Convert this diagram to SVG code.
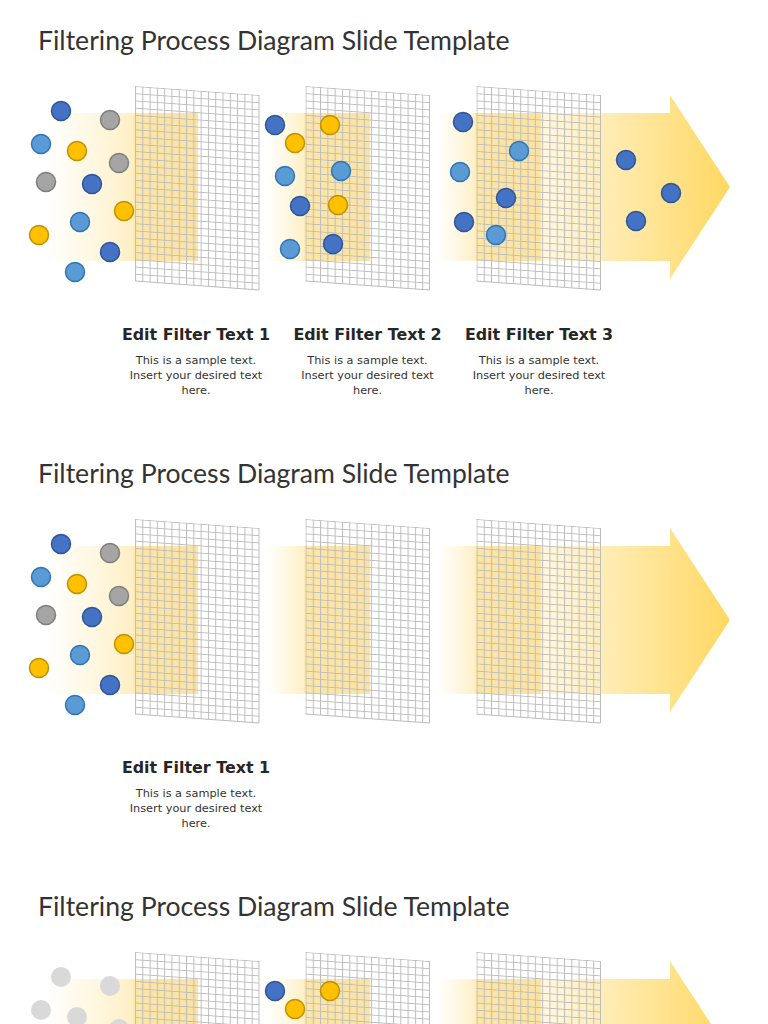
<svg xmlns="http://www.w3.org/2000/svg" width="768" height="1024" viewBox="0 0 768 1024">
<style>
.title{font-family:Lato,"Open Sans","Liberation Sans",sans-serif;font-size:26.6px;fill:#333333}
.head{font-family:"DejaVu Sans","Liberation Sans",sans-serif;font-size:15.9px;font-weight:bold;fill:#262626;text-anchor:middle}
.body{font-family:"DejaVu Sans","Liberation Sans",sans-serif;font-size:11.3px;fill:#333333;text-anchor:middle}
.db{fill:#4472C4;stroke:#2F5597;stroke-width:1.5}
.lb{fill:#5B9BD5;stroke:#2E75B6;stroke-width:1.5}
.yl{fill:#FFC000;stroke:#BF9000;stroke-width:1.5}
.gr{fill:#A5A5A5;stroke:#7F7F7F;stroke-width:1.5}
.fd{fill:#D9D9D9}
.gline{fill:none;stroke:#BDBDBD;stroke-width:1}
</style>
<defs>
<linearGradient id="band1G" x1="0" y1="0" x2="1" y2="0">
<stop offset="0" stop-color="#FFF2CC" stop-opacity="0"/>
<stop offset="0.575" stop-color="#FEEFC4" stop-opacity="1"/>
<stop offset="0.59" stop-color="#FCE6A6"/>
<stop offset="1" stop-color="#FCE3A0"/>
</linearGradient>
<linearGradient id="band2G" x1="0" y1="0" x2="1" y2="0">
<stop offset="0" stop-color="#FFF2CC" stop-opacity="0"/>
<stop offset="0.36" stop-color="#FEF0C8" stop-opacity="1"/>
<stop offset="0.375" stop-color="#FCE6A6"/>
<stop offset="1" stop-color="#FCE3A0"/>
</linearGradient>
<linearGradient id="arrowG" gradientUnits="userSpaceOnUse" x1="541" y1="0" x2="730" y2="0">
<stop offset="0" stop-color="#FFF7E0"/>
<stop offset="1" stop-color="#FFD862"/>
</linearGradient>
<pattern id="gp" patternUnits="userSpaceOnUse" width="7.294" height="7.222">
<path d="M0 0.5H7.294M0.5 0V7.222" class="gline"/>
</pattern>
<g id="grid">
<g transform="skewY(4.15)">
<rect x="0" y="0" width="124" height="195" fill="url(#gp)"/>
<path d="M124 0V195M0 195H124" class="gline"/>
</g>
</g>
<rect id="band1" x="45" y="113" width="153" height="148" fill="url(#band1G)"/>
<rect id="band2" x="266" y="113" width="104" height="148" fill="url(#band2G)"/>
<rect id="band3" x="437" y="113" width="104" height="148" fill="url(#band2G)"/>
<path id="arrow" d="M541 113H670V95L730 187L670 279V261H541Z" fill="url(#arrowG)"/>
</defs>

<g id="slide1">
<text class="title" x="38" y="50">Filtering Process Diagram Slide Template</text>
<g id="s1-arrow"><use href="#arrow"/></g>
<g id="s1-filter1">
<use href="#band1"/>
<use href="#grid" transform="translate(135,86)"/>
<circle class="db" cx="61" cy="111" r="9.5"/>
<circle class="gr" cx="110" cy="120" r="9.5"/>
<circle class="lb" cx="41" cy="144" r="9.5"/>
<circle class="yl" cx="77" cy="151" r="9.5"/>
<circle class="gr" cx="119" cy="163" r="9.5"/>
<circle class="gr" cx="46" cy="182" r="9.5"/>
<circle class="db" cx="92" cy="184" r="9.5"/>
<circle class="yl" cx="124" cy="211" r="9.5"/>
<circle class="lb" cx="80" cy="222" r="9.5"/>
<circle class="yl" cx="39" cy="235" r="9.5"/>
<circle class="db" cx="110" cy="252" r="9.5"/>
<circle class="lb" cx="75" cy="272" r="9.5"/>
</g>
<g id="s1-filter2">
<use href="#band2"/>
<use href="#grid" transform="translate(305.5,86)"/>
<circle class="db" cx="275" cy="125" r="9.5"/>
<circle class="yl" cx="330" cy="125" r="9.5"/>
<circle class="yl" cx="295" cy="143" r="9.5"/>
<circle class="lb" cx="285" cy="176" r="9.5"/>
<circle class="lb" cx="341" cy="171" r="9.5"/>
<circle class="db" cx="300" cy="206" r="9.5"/>
<circle class="yl" cx="338" cy="205" r="9.5"/>
<circle class="lb" cx="290" cy="249" r="9.5"/>
<circle class="db" cx="333" cy="244" r="9.5"/>
</g>
<g id="s1-filter3">
<use href="#band3"/>
<use href="#grid" transform="translate(476.5,86)"/>
<circle class="db" cx="463" cy="122" r="9.5"/>
<circle class="lb" cx="519" cy="151" r="9.5"/>
<circle class="lb" cx="460" cy="172" r="9.5"/>
<circle class="db" cx="506" cy="198" r="9.5"/>
<circle class="db" cx="464" cy="222" r="9.5"/>
<circle class="lb" cx="496" cy="235" r="9.5"/>
</g>
<g id="s1-output">
<circle class="db" cx="626" cy="160" r="9.5"/>
<circle class="db" cx="671" cy="193" r="9.5"/>
<circle class="db" cx="636" cy="221" r="9.5"/>
</g>
<g id="s1-text1">
<text class="head" x="196" y="340">Edit Filter Text 1</text>
<text class="body" x="196" y="364">This is a sample text.</text>
<text class="body" x="196" y="379">Insert your desired text</text>
<text class="body" x="196" y="394">here.</text>
</g>
<g id="s1-text2">
<text class="head" x="367.5" y="340">Edit Filter Text 2</text>
<text class="body" x="367.5" y="364">This is a sample text.</text>
<text class="body" x="367.5" y="379">Insert your desired text</text>
<text class="body" x="367.5" y="394">here.</text>
</g>
<g id="s1-text3">
<text class="head" x="539" y="340">Edit Filter Text 3</text>
<text class="body" x="539" y="364">This is a sample text.</text>
<text class="body" x="539" y="379">Insert your desired text</text>
<text class="body" x="539" y="394">here.</text>
</g>
</g>

<g id="slide2" transform="translate(0,433)">
<text class="title" x="38" y="50">Filtering Process Diagram Slide Template</text>
<g id="s2-arrow"><use href="#arrow"/></g>
<g id="s2-filter1">
<use href="#band1"/>
<use href="#grid" transform="translate(135,86)"/>
<circle class="db" cx="61" cy="111" r="9.5"/>
<circle class="gr" cx="110" cy="120" r="9.5"/>
<circle class="lb" cx="41" cy="144" r="9.5"/>
<circle class="yl" cx="77" cy="151" r="9.5"/>
<circle class="gr" cx="119" cy="163" r="9.5"/>
<circle class="gr" cx="46" cy="182" r="9.5"/>
<circle class="db" cx="92" cy="184" r="9.5"/>
<circle class="yl" cx="124" cy="211" r="9.5"/>
<circle class="lb" cx="80" cy="222" r="9.5"/>
<circle class="yl" cx="39" cy="235" r="9.5"/>
<circle class="db" cx="110" cy="252" r="9.5"/>
<circle class="lb" cx="75" cy="272" r="9.5"/>
</g>
<g id="s2-filter2">
<use href="#band2"/>
<use href="#grid" transform="translate(305.5,86)"/>
</g>
<g id="s2-filter3">
<use href="#band3"/>
<use href="#grid" transform="translate(476.5,86)"/>
</g>
<g id="s2-text1">
<text class="head" x="196" y="340">Edit Filter Text 1</text>
<text class="body" x="196" y="364">This is a sample text.</text>
<text class="body" x="196" y="379">Insert your desired text</text>
<text class="body" x="196" y="394">here.</text>
</g>
</g>

<g id="slide3" transform="translate(0,866)">
<text class="title" x="38" y="50">Filtering Process Diagram Slide Template</text>
<g id="s3-arrow"><use href="#arrow"/></g>
<g id="s3-filter1">
<use href="#band1"/>
<use href="#grid" transform="translate(135,86)"/>
<circle class="fd" cx="61" cy="111" r="10"/>
<circle class="fd" cx="110" cy="120" r="10"/>
<circle class="fd" cx="41" cy="144" r="10"/>
<circle class="fd" cx="77" cy="151" r="10"/>
<circle class="fd" cx="119" cy="163" r="10"/>
</g>
<g id="s3-filter2">
<use href="#band2"/>
<use href="#grid" transform="translate(305.5,86)"/>
<circle class="db" cx="275" cy="125" r="9.5"/>
<circle class="yl" cx="330" cy="125" r="9.5"/>
<circle class="yl" cx="295" cy="143" r="9.5"/>
</g>
<g id="s3-filter3">
<use href="#band3"/>
<use href="#grid" transform="translate(476.5,86)"/>
</g>
</g>
</svg>
